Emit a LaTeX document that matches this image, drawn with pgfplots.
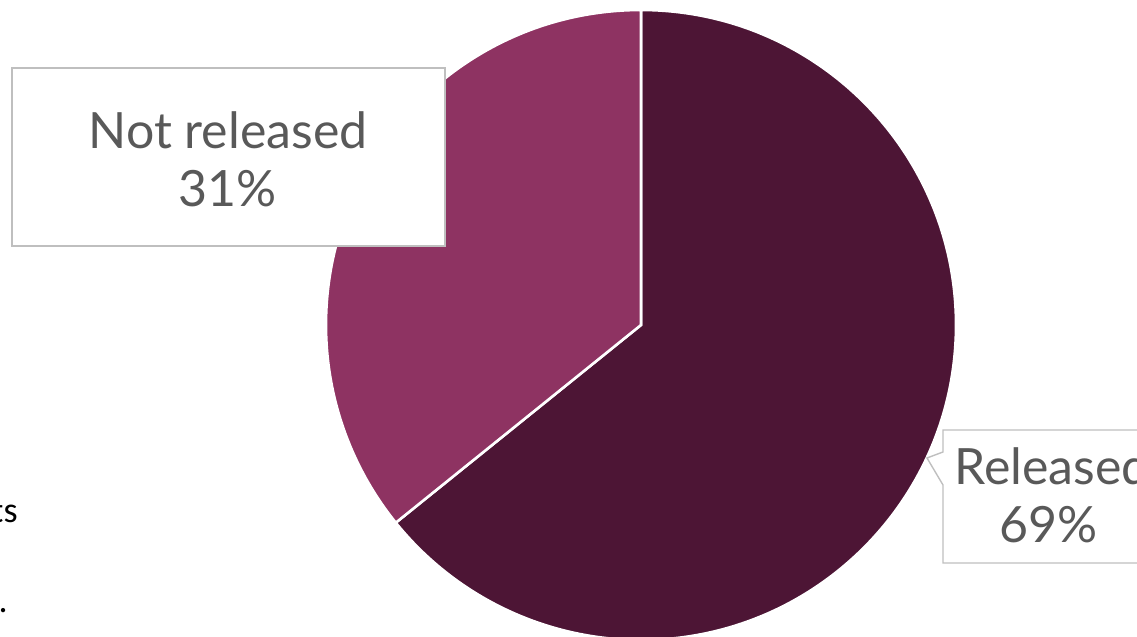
\documentclass[border=0pt]{standalone}
\usepackage{pgfplots}
\pgfplotsset{compat=1.18}
\usepackage{fontspec}
\setmainfont{Lato}
\newfontfamily\bodyfont{Carlito}
\definecolor{relcol}{HTML}{4D1535}
\definecolor{notcol}{HTML}{8E3362}
\definecolor{txtcol}{HTML}{595959}
\definecolor{boxcol}{HTML}{BFBFBF}
% slice values (share of the circle as drawn)
\def\valNot{35.8}
\def\valRel{64.2}
\begin{document}
\begin{tikzpicture}
\useasboundingbox (0,0) rectangle (568.5pt,318.5pt);
\clip (0,0) rectangle (568.5pt,318.5pt);
\begin{axis}[
  at={(0,0)}, anchor=south west,
  scale only axis, width=568.5pt, height=318.5pt,
  xmin=0, xmax=1137, ymin=-637, ymax=0,
  hide axis, clip=false,
]
\pgfmathsetmacro{\angNot}{90+3.6*\valNot}
% Released slice (clockwise from 12 o'clock)
\fill[relcol, draw=white, line width=1.3pt, line join=miter]
  (axis cs:641,-325) -- ++(90:157.5pt) arc[start angle=90, end angle=\angNot-360, radius=157.5pt] -- cycle;
% Not released slice
\fill[notcol, draw=white, line width=1.3pt, line join=miter]
  (axis cs:641,-325) -- ++(90:157.5pt) arc[start angle=90, end angle=\angNot, radius=157.5pt] -- cycle;
% label boxes
\draw[boxcol, fill=white, line width=0.7pt] (axis cs:12,-68) rectangle (axis cs:445,-246);
\node[anchor=base, text=txtcol, font=\fontsize{25pt}{30pt}\selectfont, inner sep=0pt] at (axis cs:228,-149) {Not released};
\node[anchor=base, text=txtcol, font=\fontsize{25pt}{30pt}\selectfont, inner sep=0pt] at (axis cs:228,-207) {31\%};
\draw[boxcol, fill=white, line width=0.7pt] (axis cs:943,-452) -- (axis cs:943,-430) -- (axis cs:1170,-430) -- (axis cs:1170,-563) -- (axis cs:943,-563) -- (axis cs:943,-485) -- (axis cs:927,-458) -- cycle;
\node[anchor=base west, text=txtcol, font=\fontsize{25pt}{30pt}\selectfont, inner sep=0pt] at (axis cs:954,-485) {Released};
\node[anchor=base, text=txtcol, font=\fontsize{25pt}{30pt}\selectfont, inner sep=0pt] at (axis cs:1049,-543) {69\%};
% cropped body text at left edge
\node[anchor=base east, text=black, font=\bodyfont\fontsize{18pt}{22pt}\selectfont, inner sep=0pt] at (axis cs:18,-523) {ts};
\node[anchor=base east, text=black, font=\bodyfont\fontsize{18pt}{22pt}\selectfont, inner sep=0pt] at (axis cs:8,-613) {.};
\end{axis}
\end{tikzpicture}
\end{document}
